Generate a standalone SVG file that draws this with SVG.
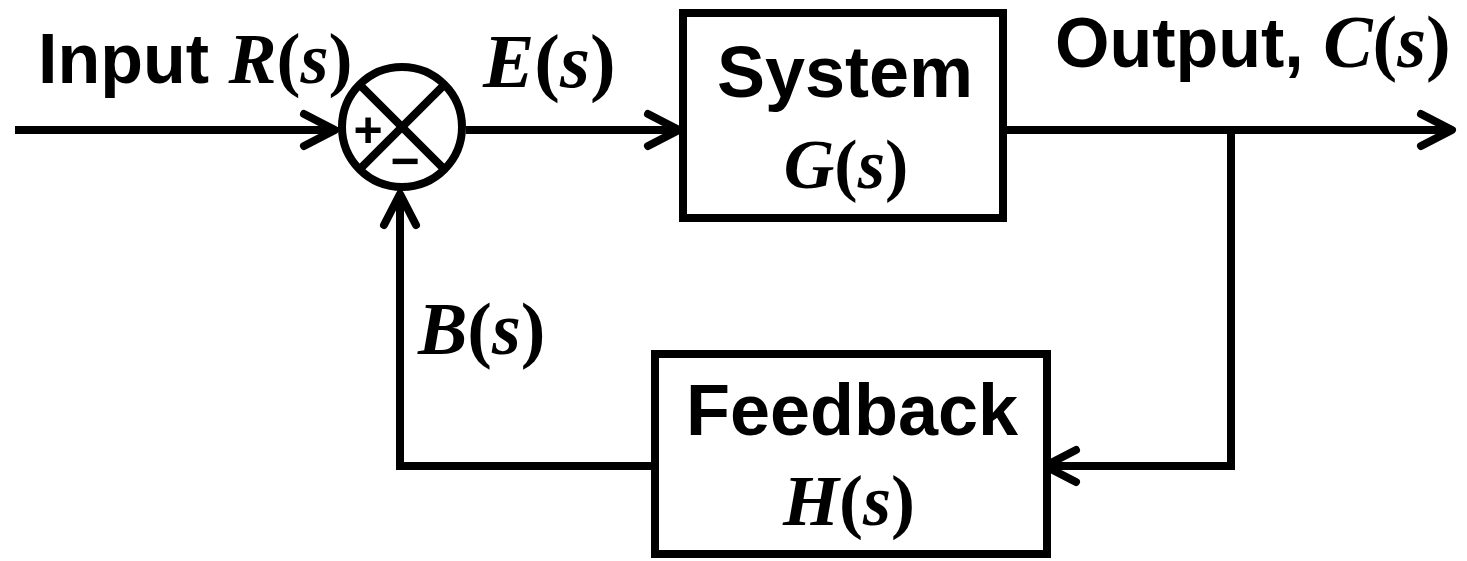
<svg xmlns="http://www.w3.org/2000/svg" width="1467" height="561" viewBox="0 0 1467 561">
<defs>
<style>
.ln{fill:none;stroke:#000;stroke-width:8;stroke-linejoin:miter}
.box{fill:#fff;stroke:#000;stroke-width:8}
.sans{font-family:"Liberation Sans",Arial,sans-serif;font-weight:bold;fill:#000}
.mi{font-family:"Liberation Serif","Times New Roman",serif;font-weight:bold;font-style:italic;fill:#000}
.up{font-style:normal}
</style>
<marker id="arr" markerUnits="userSpaceOnUse" markerWidth="60" markerHeight="60" viewBox="-45 -30 60 60" refX="0" refY="0" orient="auto" overflow="visible">
<path d="M -31 -16 L 0 0 L -31 16" fill="none" stroke="#000" stroke-width="8" stroke-linecap="round" stroke-linejoin="round"/>
</marker>
</defs>
<rect width="1467" height="561" fill="#fff"/>
<g id="connectors">
<path class="ln" d="M 15 130 L 335 130" marker-end="url(#arr)"/>
<path class="ln" d="M 466 130 L 679 130" marker-end="url(#arr)"/>
<path class="ln" d="M 1007 130 L 1452 130" marker-end="url(#arr)"/>
<path class="ln" d="M 1231 130 L 1231 466 L 1045 466" marker-end="url(#arr)"/>
<path class="ln" d="M 655 466 L 400 466 L 400 194" marker-end="url(#arr)"/>
</g>
<g id="sum">
<circle cx="402" cy="127" r="60" fill="#fff" stroke="#000" stroke-width="8"/>
<line x1="359.6" y1="84.6" x2="444.4" y2="169.4" stroke="#000" stroke-width="8"/>
<line x1="444.4" y1="84.6" x2="359.6" y2="169.4" stroke="#000" stroke-width="8"/>
<text class="sans" x="368" y="147" font-size="50" text-anchor="middle">+</text>
<text class="sans" x="405" y="178" font-size="50" text-anchor="middle">−</text>
</g>
<g id="system">
<rect class="box" x="683" y="13" width="320" height="205"/>
<text class="sans" x="845" y="97" font-size="72" text-anchor="middle">System</text>
<text class="mi" x="846" y="188" font-size="70" text-anchor="middle">G<tspan class="up">(</tspan>s<tspan class="up">)</tspan></text>
</g>
<g id="feedback">
<rect class="box" x="655" y="354" width="392" height="200"/>
<text class="sans" x="852" y="435" font-size="72" text-anchor="middle">Feedback</text>
<text class="mi" x="849" y="525" font-size="72" text-anchor="middle">H<tspan class="up">(</tspan>s<tspan class="up">)</tspan></text>
</g>
<g id="labels">
<text x="38" y="83"><tspan class="sans" font-size="70">Input </tspan><tspan class="mi" font-size="72">R<tspan class="up">(</tspan>s<tspan class="up">)</tspan></tspan></text>
<text class="mi" x="483" y="87" font-size="77">E<tspan class="up">(</tspan>s<tspan class="up">)</tspan></text>
<text class="mi" x="418" y="354" font-size="74">B<tspan class="up">(</tspan>s<tspan class="up">)</tspan></text>
<text x="1055" y="67"><tspan class="sans" font-size="70">Output, </tspan><tspan class="mi" font-size="74">C<tspan class="up">(</tspan>s<tspan class="up">)</tspan></tspan></text>
</g>
</svg>
